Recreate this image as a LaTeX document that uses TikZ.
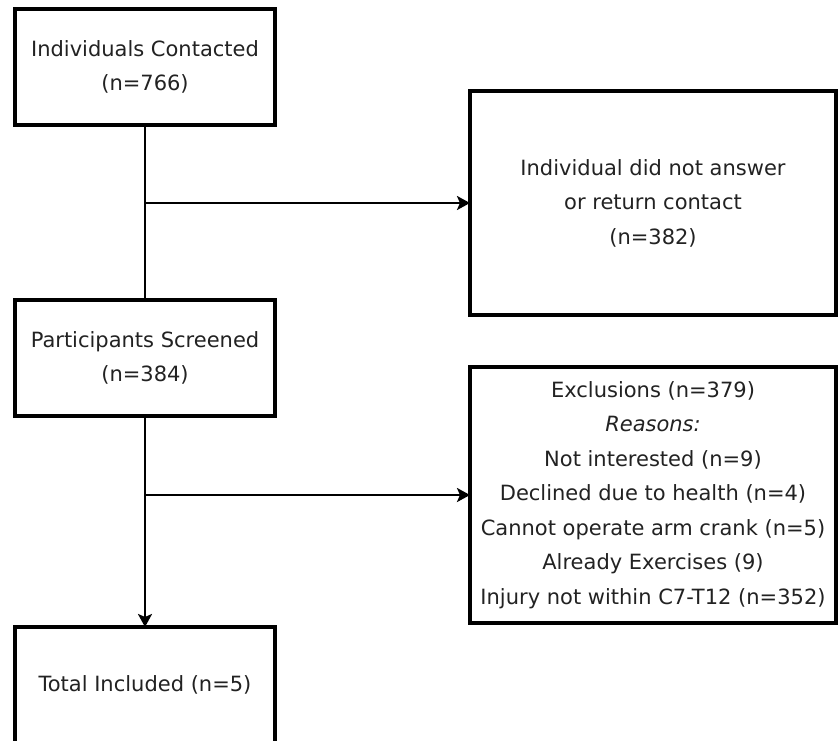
\documentclass[tikz,border=0pt]{standalone}
\usepackage{fontspec}
\setmainfont{DejaVu Sans}
\usetikzlibrary{arrows.meta}
\definecolor{txt}{HTML}{222222}
\begin{document}
\begin{tikzpicture}[x=1pt,y=-1pt,
  box/.style={draw=black, line width=4.5pt, fill=white, align=center, text=txt,
    font=\fontsize{21}{34.5}\selectfont, inner sep=0pt, outer sep=0pt},
  conn/.style={draw=black, line width=2.8pt},
  arr/.style={conn, -{Stealth[length=13pt,width=14pt,inset=3pt]}}]
\useasboundingbox (0,0) rectangle (838,740);
\node[box, minimum width=260pt, minimum height=116pt] (b1) at (145,67) {Individuals Contacted\\(n=766)};
\node[box, minimum width=366pt, minimum height=224pt] (b2) at (653,203) {Individual did not answer\\or return contact\\(n=382)};
\node[box, minimum width=260pt, minimum height=116pt] (b3) at (145,358) {Participants Screened\\(n=384)};
\node[box, minimum width=366pt, minimum height=256pt] (b4) at (653,495) {Exclusions (n=379)\\\textit{Reasons:}\\Not interested (n=9)\\Declined due to health (n=4)\\Cannot operate arm crank (n=5)\\Already Exercises (9)\\Injury not within C7-T12 (n=352)};
\node[box, minimum width=260pt, minimum height=116pt] (b5) at (145,685) {Total Included (n=5)};
\coordinate (j1) at (b1.south |- b2.west);
\coordinate (j2) at (b3.south |- b4.west);
\draw[conn] (b1.south) -- (b3.north);
\draw[arr] (j1) -- (b2.west);
\draw[arr] (b3.south) -- (b5.north);
\draw[arr] (j2) -- (b4.west);
\end{tikzpicture}
\end{document}
